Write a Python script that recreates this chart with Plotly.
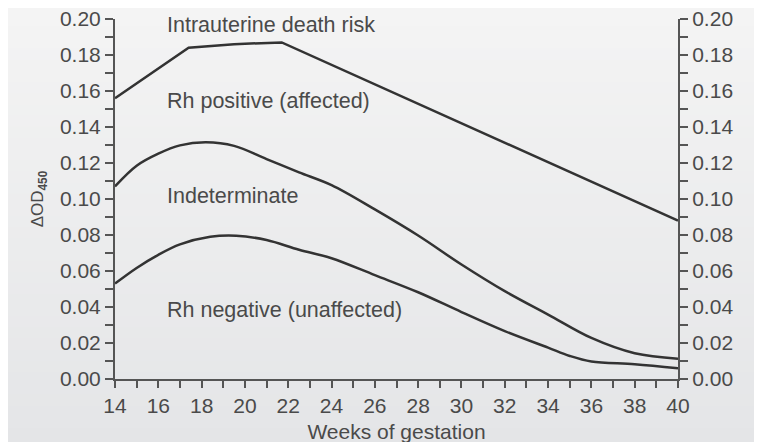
import plotly.graph_objects as go

# ---- data ----
weeks_upper = [14, 17.4, 19.5, 21.7, 40]
od_upper = [0.156, 0.184, 0.186, 0.187, 0.088]

weeks_mid = [14, 15, 16, 17, 18.2, 19.5, 21, 22.5, 24, 26, 28, 30, 32, 34, 36, 38, 40]
od_mid = [0.107, 0.1185, 0.1252, 0.1298, 0.1315, 0.1295, 0.1222, 0.1148, 0.1077,
          0.0942, 0.0797, 0.0636, 0.0488, 0.0358, 0.0228, 0.0143, 0.0113]

weeks_low = [14, 15, 16, 17, 18.4, 19.6, 21, 22.5, 24, 26, 28, 30, 32, 34, 35, 36, 38, 40]
od_low = [0.053, 0.0617, 0.069, 0.0748, 0.079, 0.0796, 0.0772, 0.0718, 0.0671,
          0.0577, 0.0482, 0.0372, 0.0266, 0.0174, 0.0128, 0.0097, 0.0082, 0.006]

zone_labels = ["Intrauterine death risk", "Rh positive (affected)",
               "Indeterminate", "Rh negative (unaffected)"]
zone_label_x = [16.3, 16.3, 16.3, 16.3]
zone_label_y = [0.1965, 0.1545, 0.1018, 0.0385]

y_ticks = [0.00, 0.02, 0.04, 0.06, 0.08, 0.10, 0.12, 0.14, 0.16, 0.18, 0.20]
x_ticks = list(range(14, 41, 2))

# ---- styles ----
FONT = "Liberation Sans, Arial, sans-serif"
TXT = "#4a4a4a"
LINE = "#333333"
AX = "#555555"

fig = go.Figure()
line_style = dict(color=LINE, width=2.5)
fig.add_trace(go.Scatter(x=weeks_upper, y=od_upper, mode="lines",
                         line=dict(shape="linear", **line_style), hoverinfo="skip"))
fig.add_trace(go.Scatter(x=weeks_mid, y=od_mid, mode="lines",
                         line=dict(shape="spline", smoothing=1.0, **line_style), hoverinfo="skip"))
fig.add_trace(go.Scatter(x=weeks_low, y=od_low, mode="lines",
                         line=dict(shape="spline", smoothing=1.0, **line_style), hoverinfo="skip"))
# invisible trace to activate the right-hand axis
fig.add_trace(go.Scatter(x=weeks_low, y=od_low, mode="lines", yaxis="y2",
                         line=dict(color="rgba(0,0,0,0)"), hoverinfo="skip"))

for t, x, y in zip(zone_labels, zone_label_x, zone_label_y):
    fig.add_annotation(x=x, y=y, text=t, showarrow=False, xanchor="left",
                       yanchor="middle", font=dict(family=FONT, size=21.5, color=TXT))

# background gradient (bands covering the whole figure)
top = (0xf4, 0xf4, 0xf4)
bot = (0xe4, 0xe5, 0xe7)
n = 40
y_top, y_bot = 1.04, -0.2
shapes = []
for i in range(n):
    f = i / (n - 1)
    c = tuple(round(top[k] + (bot[k] - top[k]) * f) for k in range(3))
    y0 = y_top - (y_top - y_bot) * i / n
    y1 = y_top - (y_top - y_bot) * (i + 1) / n
    shapes.append(dict(type="rect", xref="paper", yref="paper", x0=-0.2, x1=1.2,
                       y0=y1, y1=y0 + 0.002, fillcolor="rgb(%d,%d,%d)" % c,
                       line=dict(width=0), layer="below"))

tickfont = dict(family=FONT, size=21, color=TXT)
yax = dict(range=[0, 0.2], tickvals=y_ticks, tickformat=".2f", showgrid=False,
           zeroline=False, showline=True, linecolor=AX, linewidth=2,
           ticks="outside", ticklen=8, tickwidth=2, tickcolor=AX,
           minor=dict(dtick=0.01, ticks="outside", ticklen=8, tickwidth=2, tickcolor=AX),
           tickfont=tickfont, fixedrange=True, automargin=False,
           ticklabeloverflow="allow")

fig.update_layout(
    width=762, height=442,
    margin=dict(l=107, r=92, t=11, b=71),
    paper_bgcolor="#ececed", plot_bgcolor="rgba(0,0,0,0)",
    showlegend=False,
    shapes=shapes,
    font=dict(family=FONT, color=TXT),
    xaxis=dict(range=[14, 40], tickvals=x_ticks, showgrid=False, zeroline=False,
               showline=True, linecolor=AX, linewidth=2,
               ticks="outside", ticklen=7, tickwidth=2, tickcolor=AX,
               minor=dict(dtick=1, ticks="outside", ticklen=7, tickwidth=2, tickcolor=AX),
               tickfont=tickfont, automargin=False, ticklabeloverflow="allow",
               title=dict(text="Weeks of gestation", standoff=8,
                          font=dict(family=FONT, size=21, color=TXT))),
    yaxis=dict(**yax, side="left",
               title=dict(text="ΔOD<sub><b>450</b></sub>", standoff=12,
                          font=dict(family=FONT, size=17, color=TXT))),
    yaxis2=dict(**yax, side="right", overlaying="y"),
)

fig.write_html("out.html")
